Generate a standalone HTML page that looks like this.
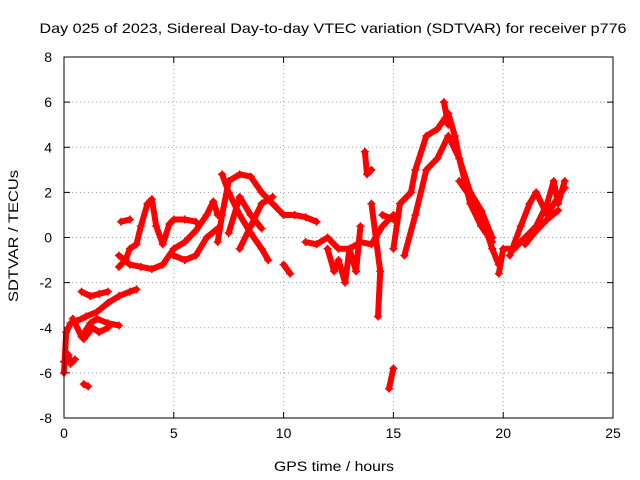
<!DOCTYPE html>
<html><head><meta charset="utf-8"><style>
body{margin:0;background:#fff;}
svg{display:block;font-family:"Liberation Sans",sans-serif;}
</style></head><body>
<svg id="chart" width="640" height="480">
<text x="333" y="33" font-size="14" text-anchor="middle" textLength="587" lengthAdjust="spacingAndGlyphs">Day 025 of 2023, Sidereal Day-to-day VTEC variation (SDTVAR) for receiver p776</text>
<text x="334" y="471" font-size="14" text-anchor="middle" textLength="120" lengthAdjust="spacingAndGlyphs">GPS time / hours</text>
<text transform="translate(18,236) rotate(-90)" font-size="14" text-anchor="middle" textLength="132" lengthAdjust="spacingAndGlyphs">SDTVAR / TECUs</text>
<g id="grid"></g><g id="series"></g>
<rect x="64" y="57" width="549" height="361" fill="none" stroke="#000" stroke-width="1"/>
</svg>
<script>
const xTicks=[0,5,10,15,20,25];
const yTicks=[-8,-6,-4,-2,0,2,4,6,8];
const tracks=[
[[0,-6],[0.1,-4.2],[0.3,-3.8],[0.6,-3.7],[1,-3.5],[1.5,-3.3],[2,-2.9],[2.5,-2.6],[3,-2.4],[3.3,-2.3]],
[[0,-5.5],[0.2,-5.2],[0.3,-5.6],[0.5,-5.4]],
[[0.9,-6.5],[1.1,-6.6]],
[[0.4,-3.6],[0.8,-4.4],[1.2,-3.8],[1.5,-3.6],[2,-3.8],[2.5,-3.9]],
[[0.8,-2.4],[1.2,-2.6],[1.6,-2.5],[2,-2.4]],
[[0.9,-4.5],[1.3,-4],[1.6,-4.2],[2,-4]],
[[2.5,-1.3],[2.8,-1],[3,-0.5],[3.3,-0.3],[3.5,0.5],[3.8,1.5],[4,1.7],[4.2,0.5],[4.5,-0.3],[4.8,0.6],[5,0.8],[5.5,0.8],[6,0.7]],
[[2.5,-0.8],[3,-1.2],[3.5,-1.3],[4,-1.4],[4.5,-1.2],[5,-0.5],[5.5,-0.2],[6,0.3],[6.5,1],[6.8,1.6],[7,1]],
[[2.6,0.7],[3,0.8]],
[[5,-0.8],[5.5,-1],[6,-0.8],[6.5,0],[7,0.4]],
[[7,-0.2],[7.2,1],[7.5,2.5],[8,2.8],[8.5,2.7],[9,2],[9.5,1.5],[10,1]],
[[7.2,2.8],[7.5,2],[8,1],[8.5,0.2],[9,-0.5],[9.3,-1]],
[[7.5,0.2],[8,1.8],[8.5,1],[9,0.4]],
[[8,-0.5],[8.5,0.5],[9,1.5],[9.5,1.8]],
[[10,1],[10.5,1],[11,0.9],[11.5,0.7]],
[[10,-1.2],[10.3,-1.6]],
[[11,-0.2],[11.5,-0.3],[12,0],[12.5,-0.5],[13,-0.5],[13.5,-0.2],[14,-0.3],[14.5,0.5],[15,1]],
[[12,-0.5],[12.3,-1.5],[12.5,-1],[12.8,-2],[13,-0.5],[13.3,-1.5],[13.5,0.5]],
[[13.7,3.8],[13.8,2.8],[14,3]],
[[14,1.5],[14.2,0],[14.4,-1.5],[14.3,-3.5]],
[[14.8,-6.7],[15,-5.8]],
[[14.5,1],[15,0.8]],
[[15,-0.5],[15.3,1.5],[15.8,2],[16,3],[16.5,4.5],[17,4.8],[17.5,5.5],[17.8,4.5],[18,3.5],[18.5,2],[19,1.2],[19.5,0]],
[[15.5,-0.8],[16,1],[16.5,3],[17,3.5],[17.5,4.5],[18,3.5],[18.5,1.5],[19,0.5],[19.5,-0.2]],
[[17.3,6],[17.5,5]],
[[18,2.5],[18.5,1.8],[19,1],[19.5,-0.5],[19.8,-1.2]],
[[19.8,-1.6],[20,-0.5],[20.5,-0.5],[21,0],[21.5,0.5],[22,1.5],[22.3,2.5],[22.5,1.5],[22.8,2.5]],
[[20.3,-0.8],[20.8,0.5],[21.2,1.5],[21.5,2],[22,1],[22.5,1.8],[22.8,2.2]],
[[21,-0.3],[21.5,0.3],[22,0.8],[22.5,1.2]]
];
const X0=64,X1=613,Y0=418,Y1=57;
const xs=v=>X0+(v-0)/25*(X1-X0);
const ys=v=>Y0-(v+8)/16*(Y0-Y1);
const NS="http://www.w3.org/2000/svg";
const grid=document.getElementById('grid'),ser=document.getElementById('series');
function mk(t,a,p){const e=document.createElementNS(NS,t);for(const k in a)e.setAttribute(k,a[k]);p.appendChild(e);return e;}
xTicks.forEach(t=>{const x=xs(t);
 if(t>0&&t<25){const g=mk('line',{x1:x,x2:x,y1:Y0,y2:Y1,stroke:'#a0a0a0','stroke-dasharray':'1,3'},grid);
 
 }
 mk('line',{x1:x,x2:x,y1:Y0,y2:Y0-6,stroke:'#000'},grid);
 mk('line',{x1:x,x2:x,y1:Y1,y2:Y1+6,stroke:'#000'},grid);
 const l=mk('text',{x:x,y:Y0+20,'font-size':14,'text-anchor':'middle'},grid);l.textContent=t;
 
 });
yTicks.forEach(t=>{const y=ys(t);
 if(t>-8&&t<8){const g=mk('line',{x1:X0,x2:X1,y1:y,y2:y,stroke:'#a0a0a0','stroke-dasharray':'1,3'},grid);
 
 }
 mk('line',{x1:X0,x2:X0+6,y1:y,y2:y,stroke:'#000'},grid);
 mk('line',{x1:X1,x2:X1-6,y1:y,y2:y,stroke:'#000'},grid);
 const l=mk('text',{x:X0-12,y:y+5,'font-size':14,'text-anchor':'end'},grid);l.textContent=t;
 
 });
tracks.forEach(tr=>{
 const pl=mk('polyline',{points:tr.map(p=>xs(p[0])+','+ys(p[1])).join(' '),fill:'none',stroke:'#f00','stroke-width':6,'stroke-linejoin':'round','stroke-linecap':'round'},ser);
 
 
 tr.forEach(p=>{const x=xs(p[0]),y=ys(p[1]);
  const m=mk('path',{d:`M${x-4},${y}H${x+4}M${x},${y-4}V${y+4}`,stroke:'#f00','stroke-width':1.5},ser);
  
  });
});
</script>
</body></html>
